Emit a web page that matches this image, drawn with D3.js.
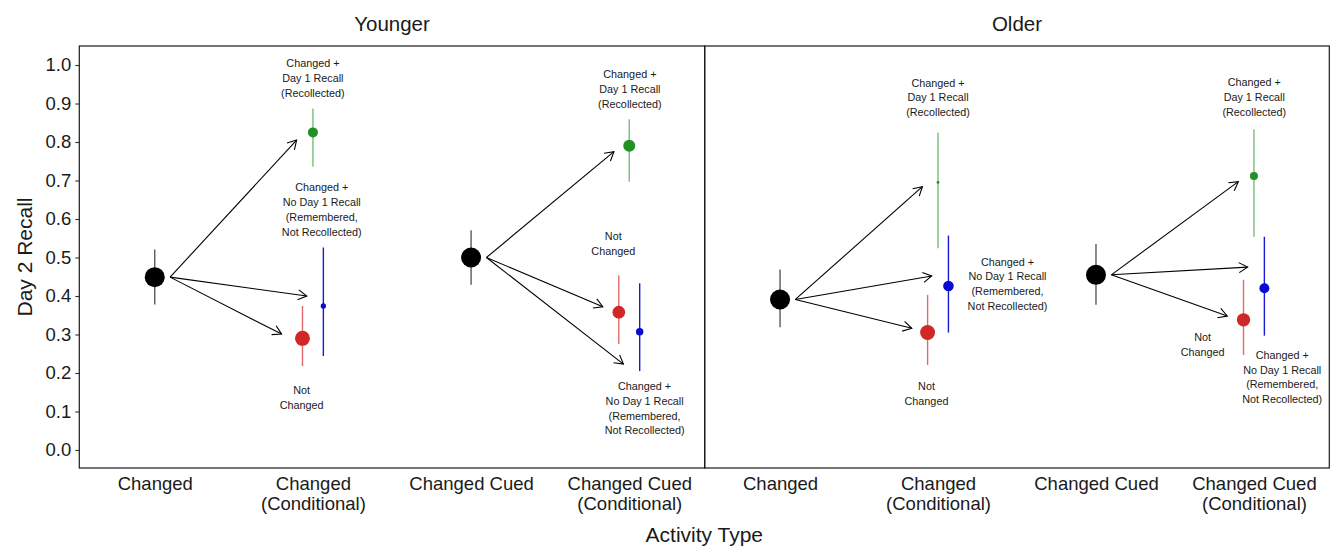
<!DOCTYPE html>
<html>
<head>
<meta charset="utf-8">
<script src="https://cdn.jsdelivr.net/npm/d3@7"></script>
<style>
  html, body { margin: 0; padding: 0; background: #fff; }
  svg { display: block; font-family: "Liberation Sans", Arial, Helvetica, sans-serif; }
</style>
</head>
<body>
<svg id="chart" width="1331" height="546"></svg>
<script>
// ---- data ----------------------------------------------------------------
const groups = ["Younger", "Older"];
const categories = ["Changed", "Changed\n(Conditional)", "Changed Cued", "Changed Cued\n(Conditional)"];
const yTicks = [0, 0.1, 0.2, 0.3, 0.4, 0.5, 0.6, 0.7, 0.8, 0.9, 1.0];

// overall Day 2 recall for the unconditional categories (1 = Changed, 3 = Changed Cued)
const overallCat = [1, 3];
const youngerOverallMean = [0.449, 0.500];
const youngerOverallLo   = [0.378, 0.429];
const youngerOverallHi   = [0.521, 0.571];
const olderOverallMean   = [0.391, 0.455];
const olderOverallLo     = [0.319, 0.377];
const olderOverallHi     = [0.469, 0.535];

// conditional breakdown (categories 2 and 4); order within each: Recollected, Not Changed, Not Recollected
const condCat = [2, 4];
const conditions = ["Recollected", "Not Changed", "Not Recollected"];
const conditionLabels = [
  "Changed +\nDay 1 Recall\n(Recollected)",
  "Not\nChanged",
  "Changed +\nNo Day 1 Recall\n(Remembered,\nNot Recollected)"
];
const youngerCondMean  = [[0.825, 0.290, 0.374], [0.790, 0.358, 0.307]];
const youngerCondLo    = [[0.736, 0.218, 0.244], [0.697, 0.275, 0.205]];
const youngerCondHi    = [[0.887, 0.374, 0.526], [0.859, 0.454, 0.433]];
const youngerCondShare = [[0.25, 0.56, 0.07], [0.36, 0.40, 0.14]];
const olderCondMean    = [[0.695, 0.305, 0.426], [0.712, 0.338, 0.420]];
const olderCondLo      = [[0.524, 0.221, 0.305], [0.554, 0.247, 0.297]];
const olderCondHi      = [[0.825, 0.403, 0.557], [0.833, 0.442, 0.554]];
const olderCondShare   = [[0.02, 0.56, 0.28], [0.16, 0.45, 0.25]];

// arrow tips (x in category units, y in recall units)
const youngerArrowX = [[1.897, 1.802, 1.961], [3.903, 3.833, 3.963]];
const youngerArrowY = [[0.805, 0.301, 0.400], [0.775, 0.372, 0.223]];
const olderArrowX   = [[1.901, 1.834, 1.960], [3.901, 3.831, 3.960]];
const olderArrowY   = [[0.684, 0.316, 0.452], [0.697, 0.348, 0.475]];

// annotation anchors (centre of first text line)
const youngerLabelX = [[2.000, 1.929, 2.056], [4.004, 3.899, 4.097]];
const youngerLabelY = [[1.004, 0.156, 0.682], [0.976, 0.556, 0.166]];
const olderLabelX   = [[2.000, 1.927, 2.440], [4.002, 3.675, 4.179]];
const olderLabelY   = [[0.954, 0.166, 0.489], [0.955, 0.294, 0.247]];

// ---- styling ---------------------------------------------------------------
const pointColor = { "Recollected": "#239023", "Not Changed": "#d02828", "Not Recollected": "#0a0ad0" };
const barColor   = { "Recollected": "#77c077", "Not Changed": "#e26a6a", "Not Recollected": "#1a1ad6" };
const overallPointColor = "#000";
const overallBarColor = "#5a5a5a";
const dodge = { "Recollected": 0, "Not Changed": -0.066, "Not Recollected": 0.066 };
const arrowStartOffset = 0.097;

const panelsData = [
  { name: groups[0], oMean: youngerOverallMean, oLo: youngerOverallLo, oHi: youngerOverallHi,
    cMean: youngerCondMean, cLo: youngerCondLo, cHi: youngerCondHi, cShare: youngerCondShare,
    aX: youngerArrowX, aY: youngerArrowY, lX: youngerLabelX, lY: youngerLabelY },
  { name: groups[1], oMean: olderOverallMean, oLo: olderOverallLo, oHi: olderOverallHi,
    cMean: olderCondMean, cLo: olderCondLo, cHi: olderCondHi, cShare: olderCondShare,
    aX: olderArrowX, aY: olderArrowY, lX: olderLabelX, lY: olderLabelY }
];

// ---- layout ----------------------------------------------------------------
const svg = d3.select("#chart");
const panelTop = 46, panelBottom = 468;
const panelX = [[79.3, 704.7], [704.7, 1329.3]];

const y = d3.scaleLinear().domain([-0.0468, 1.0494]).range([panelBottom, panelTop]);
const r = d3.scaleSqrt().domain([0, 1]).range([0, 10]);

// y axis (left panel only)
const yAxis = svg.append("g")
  .attr("transform", `translate(${panelX[0][0]},0)`)
  .call(d3.axisLeft(y).tickValues(yTicks).tickFormat(d3.format(".1f")).tickSize(4).tickPadding(4));
yAxis.select(".domain").remove();
yAxis.selectAll(".tick line").attr("stroke", "#333").attr("stroke-width", 1.1);
yAxis.selectAll(".tick text").attr("font-size", 18.5).attr("fill", "#1a1a1a")
  .attr("font-family", "'Liberation Sans', Arial, sans-serif");

const line = d3.line();

panelsData.forEach((p, pi) => {
  const x = d3.scaleLinear().domain([0.523, 4.477]).range(panelX[pi]);
  const g = svg.append("g");

  // panel frame
  g.append("rect")
    .attr("x", panelX[pi][0]).attr("y", panelTop)
    .attr("width", panelX[pi][1] - panelX[pi][0]).attr("height", panelBottom - panelTop)
    .attr("fill", "none").attr("stroke", "#1a1a1a").attr("stroke-width", 1.2);

  // panel title
  svg.append("text")
    .attr("x", (panelX[pi][0] + panelX[pi][1]) / 2).attr("y", 31)
    .attr("text-anchor", "middle").attr("font-size", 20.5).attr("fill", "#1a1a1a")
    .text(p.name);

  // category labels
  const xAxis = svg.append("g")
    .attr("transform", `translate(0,${panelBottom})`)
    .call(d3.axisBottom(x).tickValues([1, 2, 3, 4]).tickSize(0).tickPadding(0).tickFormat(() => ""));
  xAxis.select(".domain").remove();
  xAxis.selectAll(".tick").each(function (d) {
    const lines = categories[d - 1].split("\n");
    const t = d3.select(this).select("text")
      .attr("font-size", 18.5).attr("fill", "#1a1a1a").attr("dy", null)
      .attr("font-family", "'Liberation Sans', Arial, sans-serif");
    lines.forEach((s, i) => {
      t.append("tspan").attr("x", 0).attr("y", 22 + i * 20).text(s);
    });
  });

  // arrows from the overall point to each conditional point
  overallCat.forEach((c, ci) => {
    const x0 = x(c + arrowStartOffset), y0 = y(p.oMean[ci]);
    conditions.forEach((cond, k) => {
      const x1 = x(p.aX[ci][k]), y1 = y(p.aY[ci][k]);
      g.append("path").attr("d", line([[x0, y0], [x1, y1]]))
        .attr("stroke", "#000").attr("stroke-width", 1.1).attr("fill", "none");
      const ang = Math.atan2(y1 - y0, x1 - x0), len = 10, spread = Math.PI / 6;
      const head = [
        [x1 - len * Math.cos(ang - spread), y1 - len * Math.sin(ang - spread)],
        [x1, y1],
        [x1 - len * Math.cos(ang + spread), y1 - len * Math.sin(ang + spread)]
      ];
      g.append("path").attr("d", line(head))
        .attr("stroke", "#000").attr("stroke-width", 1.1).attr("fill", "none");
    });
  });

  // overall points with intervals
  overallCat.forEach((c, ci) => {
    g.append("line")
      .attr("x1", x(c)).attr("x2", x(c))
      .attr("y1", y(p.oLo[ci])).attr("y2", y(p.oHi[ci]))
      .attr("stroke", overallBarColor).attr("stroke-width", 1.4);
    g.append("circle")
      .attr("cx", x(c)).attr("cy", y(p.oMean[ci])).attr("r", r(1))
      .attr("fill", overallPointColor);
  });

  // conditional points with intervals
  condCat.forEach((c, ci) => {
    conditions.forEach((cond, k) => {
      const cx = x(c + dodge[cond]);
      g.append("line")
        .attr("x1", cx).attr("x2", cx)
        .attr("y1", y(p.cLo[ci][k])).attr("y2", y(p.cHi[ci][k]))
        .attr("stroke", barColor[cond]).attr("stroke-width", 1.4);
      g.append("circle")
        .attr("cx", cx).attr("cy", y(p.cMean[ci][k])).attr("r", r(p.cShare[ci][k]))
        .attr("fill", pointColor[cond]);
    });
  });

  // annotations
  condCat.forEach((c, ci) => {
    conditions.forEach((cond, k) => {
      const t = g.append("text")
        .attr("text-anchor", "middle").attr("font-size", 10.8).attr("fill", "#1a1a1a");
      const lx = x(p.lX[ci][k]), ly = y(p.lY[ci][k]);
      conditionLabels[k].split("\n").forEach((s, i) => {
        t.append("tspan").attr("x", lx).attr("y", ly + 3.9 + i * 14.8).text(s);
      });
    });
  });
});

// axis titles
svg.append("text")
  .attr("x", (panelX[0][0] + panelX[1][1]) / 2).attr("y", 542)
  .attr("text-anchor", "middle").attr("font-size", 21).attr("fill", "#1a1a1a")
  .text("Activity Type");
svg.append("text")
  .attr("transform", `translate(32,${(panelTop + panelBottom) / 2}) rotate(-90)`)
  .attr("text-anchor", "middle").attr("font-size", 21).attr("fill", "#1a1a1a")
  .text("Day 2 Recall");
</script>
</body>
</html>
